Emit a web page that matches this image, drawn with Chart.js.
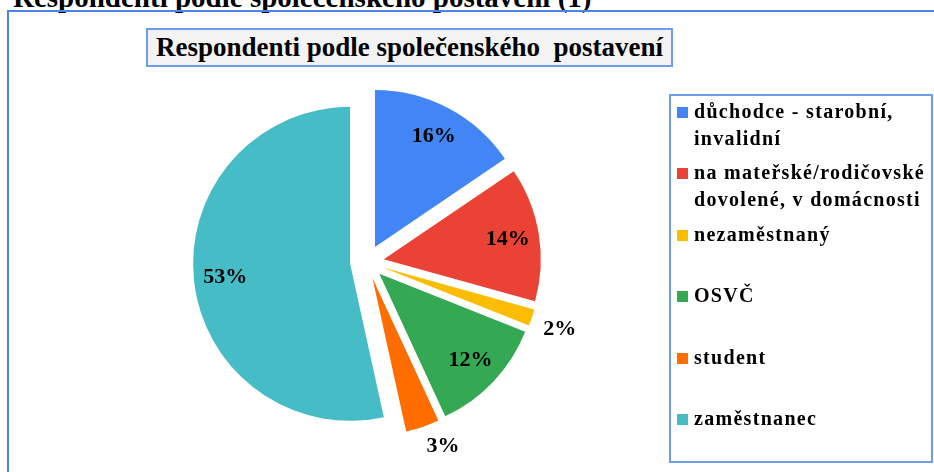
<!DOCTYPE html>
<html lang="cs">
<head>
<meta charset="utf-8">
<title>Respondenti podle společenského postavení</title>
<script src="https://cdn.jsdelivr.net/npm/chart.js@4.4.1/dist/chart.umd.min.js"></script>
<style>
    html, body {
        margin: 0;
        padding: 0;
        width: 934px;
        height: 472px;
        overflow: hidden;
        background: #fff;
        font-family: "Liberation Serif", "Times New Roman", serif;
        font-weight: bold;
        color: #000;
    }
    #PageHeading {
        position: absolute;
        left: 13px;
        top: -17px;
        font-size: 29px;
        line-height: 29px;
        white-space: nowrap;
    }
    #Frame {
        position: absolute;
        left: 7px;
        top: 10px;
        width: 940px;
        height: 480px;
        border: 2px solid #4a86e8;
        box-sizing: border-box;
    }
    #ChartCanvas {
        position: absolute;
        left: 0;
        top: 0;
    }
    #ChartTitle {
        position: absolute;
        left: 146px;
        top: 28px;
        width: 527px;
        height: 39px;
        box-sizing: border-box;
        border: 2px solid #6d9eeb;
        background: #f3f3f3;
        font-size: 27px;
        line-height: 35px;
        text-align: center;
        white-space: pre;
    }
    #Legend {
        position: absolute;
        left: 669px;
        top: 94px;
        width: 264px;
        height: 369px;
        box-sizing: border-box;
        border: 2px solid #6d9eeb;
        padding-top: 2px;
    }
    .legend-item {
        position: relative;
        height: 61.4px;
    }
    .legend-box {
        position: absolute;
        left: 6px;
        top: 9px;
        width: 11px;
        height: 11px;
    }
    .legend-text {
        margin-left: 23px;
        font-size: 20px;
        line-height: 27px;
        letter-spacing: 1.3px;
    }
</style>
</head>
<body>
<div id="PageHeading">Respondenti podle společenského postavení (1)</div>
<div id="Frame"></div>
<canvas id="ChartCanvas" width="934" height="472"></canvas>
<div id="ChartTitle">Respondenti podle společenského  postavení</div>
<div id="Legend"></div>

<script>
// categories (legend order = slice order, clockwise from 12 o'clock)
const categories = [
    "důchodce - starobní, invalidní",
    "na mateřské/rodičovské dovolené, v domácnosti",
    "nezaměstnaný",
    "OSVČ",
    "student",
    "zaměstnanec"
];

const respondents = [9, 8, 1, 7, 2, 31];

const sliceColors = ["#4285F4", "#EA4335", "#FBBC04", "#34A853", "#FF6D01", "#46BDC6"];

// how far every slice is pulled out of the centre, px
const EXPLODE = 17;
const LABEL_FONT = 'bold 22px "Liberation Serif", "Times New Roman", serif';

const total = respondents.reduce((a, b) => a + b, 0);

// draws each arc moved out along its middle angle (instead of Chart.js offset,
// which also grows the radius of some slices)
const explodePlugin = {
    id: "explode",
    beforeDatasetDraw(chart, args) {
        const ctx = chart.ctx;
        args.meta.data.forEach(arc => {
            const mid = (arc.startAngle + arc.endAngle) / 2;
            ctx.save();
            ctx.translate(Math.cos(mid) * EXPLODE, Math.sin(mid) * EXPLODE);
            arc.draw(ctx);
            ctx.restore();
        });
        return false;
    },
    afterDraw(chart) {
        const ctx = chart.ctx;
        const meta = chart.getDatasetMeta(0);
        ctx.save();
        ctx.font = LABEL_FONT;
        ctx.fillStyle = "#000";
        meta.data.forEach((arc, i) => {
            const pct = respondents[i] / total * 100;
            const text = Math.round(pct) + "%";
            const mid = (arc.startAngle + arc.endAngle) / 2;
            const dx = Math.cos(mid);
            const dy = Math.sin(mid);
            //apex of the moved slice
            const ax = arc.x + dx * EXPLODE;
            const ay = arc.y + dy * EXPLODE;
            const r = arc.outerRadius;
            ctx.textAlign = "center";
            ctx.textBaseline = "middle";
            if (pct >= 5) {
                //inside the slice
                ctx.fillText(text, ax + dx * r * 0.8, ay + dy * r * 0.8);
            } else {
                //small slices: label outside, nearest corner touching the anchor point
                const px = ax + dx * (r + 12);
                const py = ay + dy * (r + 12);
                const w = ctx.measureText(text).width;
                const h = 16;
                const cx = px + (dx >= 0 ? w / 2 : -w / 2);
                const cy = py + (dy >= 0 ? h / 2 : -h / 2);
                ctx.fillText(text, cx, cy);
            }
        });
        ctx.restore();
    }
};

const chartData = {
    type: "pie",
    data: {
        labels: categories,
        datasets: [
            {
                data: respondents,
                backgroundColor: sliceColors,
                borderWidth: 0
            }
        ]
    },
    options: {
        responsive: false,
        animation: false,
        events: [],
        layout: {
            //square chart area 314 px, centre at (367, 262)
            padding: { left: 210, top: 105, right: 410, bottom: 53 }
        },
        plugins: {
            legend: { display: false },
            title: { display: false },
            tooltip: { enabled: false }
        }
    },
    plugins: [explodePlugin]
};

new Chart(document.getElementById("ChartCanvas"), chartData);

// html legend so the long labels can wrap
const legend = document.getElementById("Legend");
categories.forEach((label, i) => {
    const item = document.createElement("div");
    item.className = "legend-item";
    const box = document.createElement("span");
    box.className = "legend-box";
    box.style.background = sliceColors[i];
    const txt = document.createElement("div");
    txt.className = "legend-text";
    txt.textContent = label;
    item.appendChild(box);
    item.appendChild(txt);
    legend.appendChild(item);
});
</script>
</body>
</html>
